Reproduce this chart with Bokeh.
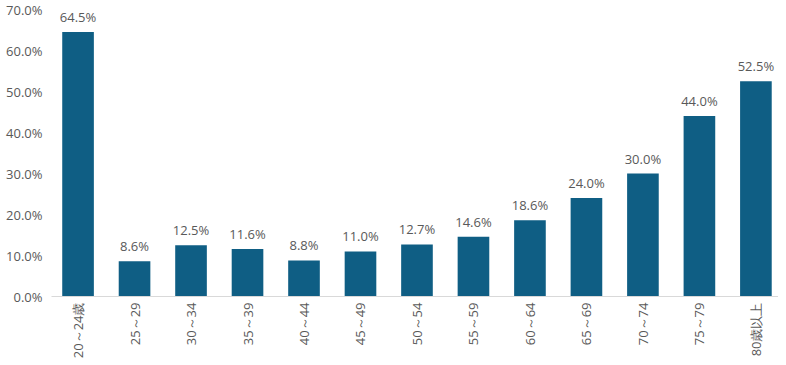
from bokeh.plotting import figure
from bokeh.models import ColumnDataSource, Range1d, FixedTicker, PrintfTickFormatter, LabelSet
from bokeh.core.properties import value
from bokeh.embed import file_html
from bokeh.resources import INLINE
import math

categories = ["20～24歳", "25～29", "30～34", "35～39", "40～44", "45～49", "50～54",
              "55～59", "60～64", "65～69", "70～74", "75～79", "80歳以上"]
values = [64.5, 8.6, 12.5, 11.6, 8.8, 11.0, 12.7, 14.6, 18.6, 24.0, 30.0, 44.0, 52.5]
y_ticks = [0, 10, 20, 30, 40, 50, 60, 70]

FONT = "Open Sans"
TXT = "#595959"

xs = list(range(len(categories)))
src = ColumnDataSource(dict(x=xs, top=values, lab=[f"{v:.1f}%" for v in values]))

p = figure(output_backend="svg", toolbar_location=None,
           width=778, height=363,
           x_range=Range1d(-0.47, 12.4), y_range=Range1d(0, 70),
           min_border_left=51, min_border_right=0, min_border_top=9, min_border_bottom=67)
p.outline_line_color = None
p.background_fill_color = "white"
p.border_fill_color = "white"
p.grid.visible = False

p.vbar(x="x", top="top", width=0.56, source=src, color="#0f5e84", line_color=None)

labels = LabelSet(x="x", y="top", text="lab", source=src, text_align="center",
                  text_baseline="bottom", y_offset=6, text_font=value(FONT),
                  text_font_size=value("13px"), text_color=value(TXT))
p.add_layout(labels)

p.xaxis.ticker = FixedTicker(ticks=xs)
p.xaxis.major_label_overrides = {i: c for i, c in zip(xs, categories)}
p.xaxis.major_label_orientation = math.pi / 2
p.xaxis.axis_line_color = "#d9d9d9"
p.xaxis.major_tick_line_color = None
p.xaxis.minor_tick_line_color = None
p.xaxis.major_tick_out = 0
p.xaxis.major_label_text_font = FONT
p.xaxis.major_label_text_font_size = "13px"
p.xaxis.major_label_text_color = TXT
p.xaxis.major_label_standoff = 6

p.yaxis.ticker = FixedTicker(ticks=y_ticks)
p.yaxis.formatter = PrintfTickFormatter(format="%.1f%%")
p.yaxis.axis_line_color = None
p.yaxis.major_tick_line_color = None
p.yaxis.minor_tick_line_color = None
p.yaxis.major_tick_out = 0
p.yaxis.major_label_text_font = FONT
p.yaxis.major_label_text_font_size = "13px"
p.yaxis.major_label_text_color = TXT
p.yaxis.major_label_standoff = 9

open("out.html", "w").write(file_html(p, INLINE))
